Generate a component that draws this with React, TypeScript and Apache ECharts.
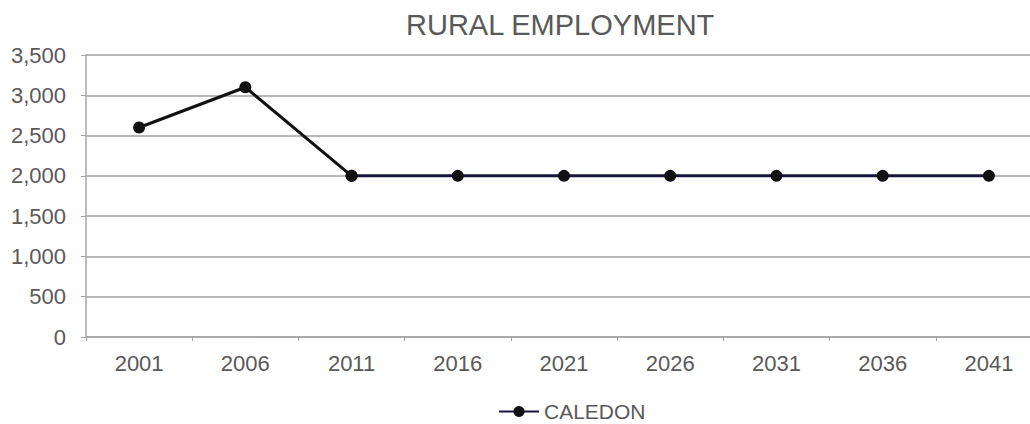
import React, { useEffect, useRef } from "react";
import * as echarts from "echarts";

const years = ["2001", "2006", "2011", "2016", "2021", "2026", "2031", "2036", "2041"];
const caledon = [2600, 3100, 2000, 2000, 2000, 2000, 2000, 2000, 2000];
const yTicks = { min: 0, max: 3500, interval: 500 };
const titleText = "RURAL EMPLOYMENT";
const seriesName = "CALEDON";
// index where the line colour turns from black to dark navy
const splitIndex = 2;

export default function App() {
  const ref = useRef<HTMLDivElement>(null);
  useEffect(() => {
    if (!ref.current) return;
    const chart = echarts.init(ref.current, undefined, { renderer: "svg" });
    const font = "'Liberation Sans', Arial, sans-serif";
    const firstPart = caledon.map((v, i) => (i <= splitIndex ? v : "-"));
    const secondPart = caledon.map((v, i) => (i >= splitIndex ? v : "-"));
    chart.setOption({
      animation: false,
      backgroundColor: "#ffffff",
      title: {
        text: titleText,
        left: 406,
        top: 10,
        padding: 0,
        textStyle: { fontFamily: font, fontSize: 29, fontWeight: "normal", color: "#595959" },
      },
      legend: {
        data: [seriesName],
        left: 498,
        top: 401,
        padding: 0,
        itemWidth: 40,
        itemHeight: 14,
        itemGap: 4,
        textStyle: { fontFamily: font, fontSize: 21, color: "#595959" },
      },
      grid: { left: 86, top: 55, width: 956, height: 282, containLabel: false },
      xAxis: {
        type: "category",
        data: years,
        boundaryGap: true,
        axisLine: { lineStyle: { color: "#a6a6a6", width: 1.5 } },
        axisTick: { show: true, length: 4, lineStyle: { color: "#a6a6a6" } },
        axisLabel: { fontFamily: font, fontSize: 22, color: "#595959", margin: 15 },
      },
      yAxis: {
        type: "value",
        min: yTicks.min,
        max: yTicks.max,
        interval: yTicks.interval,
        axisLine: { show: true, lineStyle: { color: "#a6a6a6", width: 1.5 } },
        axisTick: { show: true, length: 5, lineStyle: { color: "#a6a6a6" } },
        splitLine: { lineStyle: { color: "#a0a0a0", width: 1.5 } },
        axisLabel: {
          fontFamily: font,
          fontSize: 22,
          color: "#595959",
          margin: 20,
          formatter: (v: number) => v.toLocaleString("en-US"),
        },
      },
      series: [
        {
          name: seriesName,
          type: "line",
          data: secondPart,
          symbol: "circle",
          symbolSize: 12,
          itemStyle: { color: "#111111" },
          lineStyle: { width: 3, color: "#16163a" },
          z: 2,
        },
        {
          name: seriesName + " ",
          type: "line",
          data: firstPart,
          symbol: "circle",
          symbolSize: 12,
          itemStyle: { color: "#111111" },
          lineStyle: { width: 3, color: "#111111" },
          z: 3,
        },
      ],
    });
    return () => chart.dispose();
  }, []);
  return (
    <div style={{ position: "fixed", left: 0, top: 0, width: 1030, height: 424, overflow: "hidden", background: "#fff" }}>
      <div ref={ref} style={{ width: 1050, height: 424 }} />
    </div>
  );
}
